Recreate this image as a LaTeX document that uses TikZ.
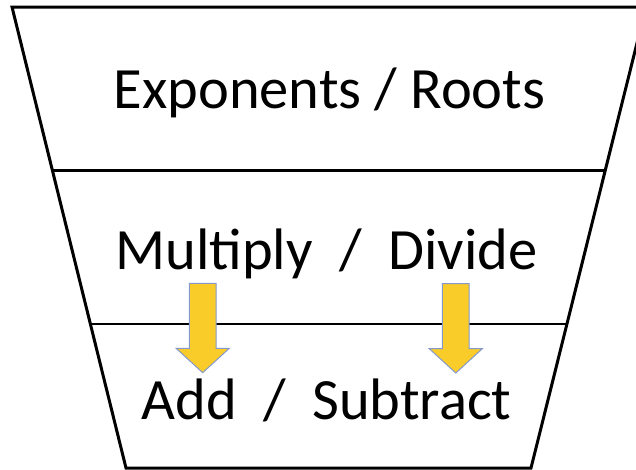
\documentclass[tikz,border=0pt]{standalone}
\usepackage{fontspec}
\setmainfont{Carlito}
\definecolor{arrowfill}{RGB}{249,204,42}
\definecolor{arrowedge}{RGB}{132,152,204}
\tikzset{
  outline/.style={line width=3pt, black, line join=miter},
  divider/.style={line width=2.6pt, black},
  label/.style={anchor=base, inner sep=0pt, font=\fontsize{58.5}{62}\selectfont},
  pics/downarrow/.style={code={
    \draw[fill=arrowfill, draw=arrowedge, line width=1pt, line join=miter]
      (-13.4,-89.4) -- (13.4,-89.4) -- (13.4,-24.4) -- (26.6,-24.4)
      -- (0,0) -- (-26.6,-24.4) -- (-13.4,-24.4) -- cycle;
  }}
}
\begin{document}
\begin{tikzpicture}[x=1pt, y=-1pt]
  \useasboundingbox (0,0) rectangle (636,469);
  \clip (0,0) rectangle (636,469);

  % funnel outline
  \coordinate (tl) at (12,7);
  \coordinate (tr) at (646,7);
  \coordinate (bl) at (126,468);
  \coordinate (br) at (531,468);
  \draw[outline] (tl) -- (tr) -- (br) -- (bl) -- cycle;

  % level dividers
  \path (tl) -- (bl) coordinate[pos=0.355] (l1) coordinate[pos=0.6876] (l2);
  \path (tr) -- (br) coordinate[pos=0.355] (r1) coordinate[pos=0.6876] (r2);
  \draw[divider] (l1) -- (r1);
  \draw[divider] (l2) -- (r2);

  % level labels
  \node[label] (top) at (329.5,108.3) {Exponents / Roots};
  \node[label] (mid) at (326.5,269.3) {Multiply~~/~~Divide};
  \node[label] (low) at (326.5,419.3) {Add~~/~~Subtract};

  % downward arrows
  \pic at (202.7,372.7) {downarrow};
  \pic at (455.8,373.0) {downarrow};
\end{tikzpicture}
\end{document}
